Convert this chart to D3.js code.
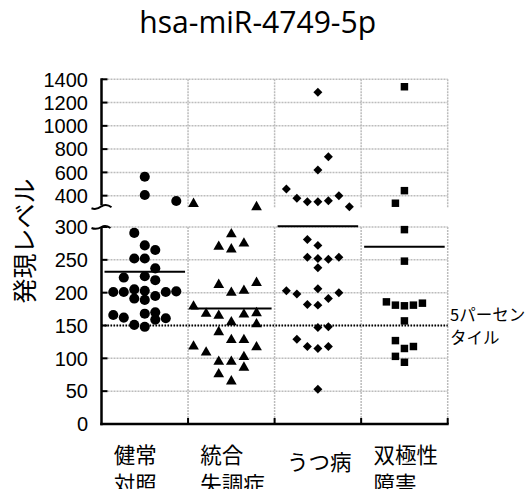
<!DOCTYPE html>
<html><head><meta charset="utf-8">
<script src="https://cdn.jsdelivr.net/npm/d3@7"></script>
<style>body{margin:0;background:#fff}svg{display:block}</style>
</head><body>
<svg id="chart" width="531" height="489"></svg>
<script>
// ---------------- data ----------------
const title = "hsa-miR-4749-5p";
const yTitle = "発現レベル";
const categories = ["健常対照", "統合失調症", "うつ病", "双極性障害"];
const categoryLines = [["健常", "対照"], ["統合", "失調症"], ["うつ病"], ["双極性", "障害"]];
const lowerTicks = [0, 50, 100, 150, 200, 250, 300];
const upperTicks = [400, 600, 800, 1000, 1200, 1400];
const percentile5 = 150;
const percentileLabel = ["5パーセン", "タイル"];
const means = [232, 176, 301, 270];

const healthyValues = [563,406,354,291,272,265,252,252,237,223,225,219,201,201,205,203,195,201,202,191,189,166,162,168,170,159,161,151,148];
const healthySlots  = [0,0,3,-1,0,1,-1,0,1,-2,0,1,-3,-2,-1,0,1,2,3,-1,0,-3,-2,0,1,1,2,-1,0];
const schizoValues  = [330,302,289,270,266,275,212,200,203,215,179,168,165,155,167,169,152,140,128,128,118,109,117,95,95,102,86,76,65];
const schizoSlots   = [-3,2,0,-1,0,1,-1,0,1,2,-3,-2,-1,0,1,2,2,-1,0,1,-3,-2,2,-1,0,1,1,-1,0];
const depressValues = [1288,735,621,458,378,348,348,357,400,305,281,272,254,252,251,254,238,203,198,206,200,182,181,191,147,148,129,118,115,118,53];
const depressSlots  = [0,1,0,-3,-2,-1,0,1,2,3,-1,0,-1,0,1,2,0,-3,-2,0,2,-1,0,1,0,1,-2,-1,0,1,0];
const bipolarValues = [1336,443,335,296,248,186,181,180,181,184,157,127,115,118,103,94];
const bipolarSlots  = [0,0,-1,0,0,-2,-1,0,1,2,0,-1,0,1,-1,0];

const groups = [
  {values: healthyValues, slots: healthySlots, symbol: d3.symbolCircle, size: 80, step: 10.5, rot: 0},
  {values: schizoValues, slots: schizoSlots, symbol: d3.symbolTriangle, size: 50, step: 12.6, rot: 0},
  {values: depressValues, slots: depressSlots, symbol: d3.symbolSquare, size: 40, step: 10.5, rot: 45},
  {values: bipolarValues, slots: bipolarSlots, symbol: d3.symbolSquare, size: 56, step: 9, rot: 0}
];

// ---------------- layout ----------------
const svg = d3.select("#chart");
const left = 101.5, right = 447.7;
const breakAt = 300;
const x = d3.scaleBand().domain(categories).range([left, right]).padding(0);
const yLow = d3.scaleLinear().domain([0, 300]).range([424, 227]);
const yUp = d3.scaleLinear().domain([300, 1400]).range([207.3, 79.3]);
const yOf = v => v > breakAt ? yUp(v) : yLow(v);

const gridColor = "#bcbcbc";
const grid = svg.append("g").attr("stroke", gridColor).attr("stroke-width", 1.5).attr("stroke-dasharray", "2,1").attr("fill", "none");
grid.selectAll("line.hl").data(lowerTicks.filter(t => t > 0)).join("line")
  .attr("x1", left).attr("x2", right).attr("y1", d => yLow(d)).attr("y2", d => yLow(d));
grid.selectAll("line.hu").data(upperTicks).join("line").attr("class", "hu")
  .attr("x1", left).attr("x2", right).attr("y1", d => yUp(d)).attr("y2", d => yUp(d));
const bounds = categories.map(c => x(c) + x.bandwidth());
grid.selectAll("line.vl").data(bounds).join("line").attr("class", "vl")
  .attr("x1", d => d).attr("x2", d => d).attr("y1", yLow(300)).attr("y2", yLow(0));
grid.selectAll("line.vu").data(bounds).join("line").attr("class", "vu")
  .attr("x1", d => d).attr("x2", d => d).attr("y1", yUp(1400)).attr("y2", yUp(300));

// percentile line
svg.append("line").attr("x1", left).attr("x2", right)
  .attr("y1", yLow(percentile5)).attr("y2", yLow(percentile5))
  .attr("stroke", "#000").attr("stroke-width", 2).attr("stroke-dasharray", "1.5,1.5");

// mean lines
svg.selectAll("line.mean").data(means).join("line").attr("class", "mean")
  .attr("x1", (d, i) => x(categories[i]) + 3).attr("x2", (d, i) => x(categories[i]) + x.bandwidth() - 3)
  .attr("y1", d => yLow(d)).attr("y2", d => yLow(d))
  .attr("stroke", "#000").attr("stroke-width", 2);

// points
groups.forEach((g, gi) => {
  const cx = x(categories[gi]) + x.bandwidth() / 2;
  const jit = d3.scaleLinear().domain([0, 1]).range([cx, cx + g.step]);
  const sym = d3.symbol().type(g.symbol).size(g.size);
  svg.append("g").selectAll("path").data(g.values).join("path")
    .attr("d", sym)
    .attr("transform", (v, i) => `translate(${jit(g.slots[i])},${yOf(v)}) rotate(${g.rot})`)
    .attr("fill", "#000");
});

// axes
const ax = svg.append("g").attr("stroke", "#000").attr("fill", "none");
ax.append("line").attr("x1", left).attr("x2", left).attr("y1", yLow(300)).attr("y2", yLow(0) + 1.25).attr("stroke-width", 2.5);
ax.append("line").attr("x1", left - 1.25).attr("x2", right + 1).attr("y1", yLow(0)).attr("y2", yLow(0)).attr("stroke-width", 2.5);
ax.append("line").attr("x1", left).attr("x2", left).attr("y1", yUp(1400) - 1).attr("y2", yUp(300) - 2).attr("stroke-width", 2.5);
ax.selectAll("line.tl").data(lowerTicks.filter(t => t > 0)).join("line").attr("class", "tl")
  .attr("x1", left).attr("x2", left + 6).attr("y1", d => yLow(d)).attr("y2", d => yLow(d)).attr("stroke-width", 2);
ax.selectAll("line.tu").data(upperTicks).join("line").attr("class", "tu")
  .attr("x1", left).attr("x2", left + 6).attr("y1", d => yUp(d)).attr("y2", d => yUp(d)).attr("stroke-width", 2);
ax.selectAll("line.tx").data(bounds).join("line").attr("class", "tx")
  .attr("x1", d => d).attr("x2", d => d).attr("y1", yLow(0)).attr("y2", yLow(0) - 6).attr("stroke-width", 2);
const yb1 = yUp(300) - 1, yb2 = yLow(300);
ax.append("path").attr("stroke-width", 2)
  .attr("d", `M${left - 10},${yb1 + 2} Q${left - 5},${yb1 + 4} ${left},${yb1} Q${left + 5},${yb1 - 3} ${left + 10},${yb1 + 1}`);
ax.append("path").attr("stroke-width", 2)
  .attr("d", `M${left - 10},${yb2 + 1} Q${left - 5},${yb2 + 3} ${left},${yb2} Q${left + 4},${yb2 - 2.5} ${left + 9},${yb2 + 1}`);

// tick labels
const tickFont = "'Liberation Sans', Arial, sans-serif";
svg.append("g").selectAll("text").data(lowerTicks).join("text")
  .attr("x", 88).attr("y", d => yLow(d)).attr("dy", "0.36em")
  .attr("text-anchor", "end").attr("font-family", tickFont).attr("font-size", 20).text(d => d);
svg.append("g").selectAll("text").data(upperTicks).join("text")
  .attr("x", 88).attr("y", d => yUp(d)).attr("dy", "0.36em")
  .attr("text-anchor", "end").attr("font-family", tickFont).attr("font-size", 20).text(d => d);

// category labels
const jp = "'Noto Sans CJK JP', sans-serif";
categoryLines.forEach((lines, i) => {
  const cx = x(categories[i]) + x.bandwidth() / 2;
  const t = svg.append("text").attr("font-family", jp).attr("font-size", 21.5).attr("text-anchor", "start");
  const y0 = lines.length === 1 ? 470 : 463;
  lines.forEach((ln, j) => t.append("tspan").attr("x", cx - 31).attr("y", y0 + j * 28.5).text(ln));
});

// percentile label
const pl = svg.append("text").attr("font-family", jp).attr("font-size", 16.5);
percentileLabel.forEach((ln, j) => pl.append("tspan").attr("x", 450).attr("y", 321 + j * 22.5).text(ln));

// y title
svg.append("text").attr("transform", "translate(34,241) rotate(-90)")
  .attr("text-anchor", "middle").attr("font-family", jp).attr("font-size", 25).text(yTitle);

// title
const tt = svg.append("text").attr("x", 257.7).attr("y", 33).attr("text-anchor", "middle")
  .attr("font-family", "'Open Sans', sans-serif").attr("font-size", 25).text(title);
const w = tt.node().getComputedTextLength();
tt.attr("font-size", 25 * 237 / w);
</script>
</body></html>
